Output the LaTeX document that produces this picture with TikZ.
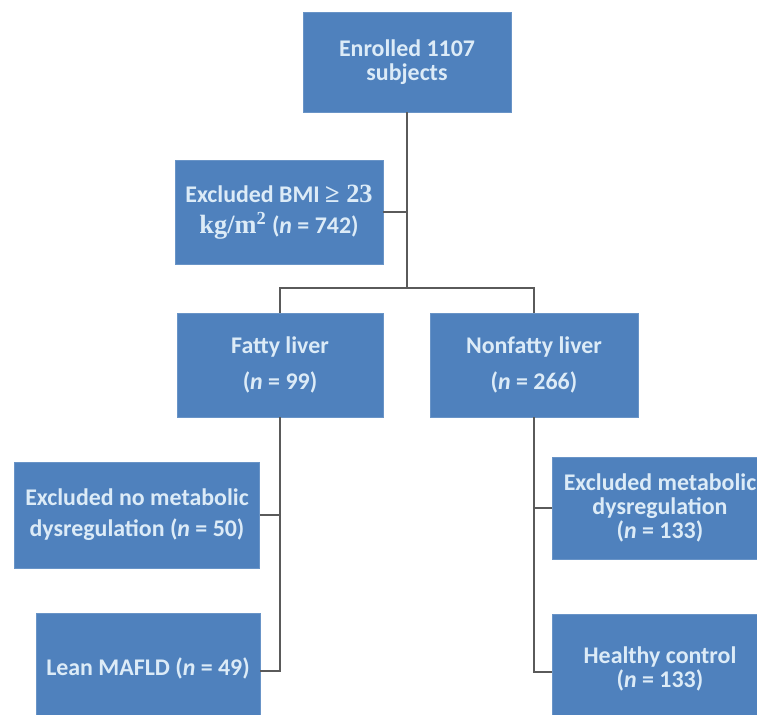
\documentclass[tikz,border=0pt]{standalone}
\usepackage{fontspec}
\setmainfont{Carlito}
\newfontfamily\unitfont{Liberation Serif}
\definecolor{boxblue}{HTML}{4F81BD}
\definecolor{boxtext}{HTML}{DCEBF7}
\definecolor{linegray}{HTML}{5A5A5A}
\begin{document}
\begin{tikzpicture}[x=0.02cm,y=-0.02cm,
	box/.style={fill=boxblue,draw=boxblue!85!white,line width=0.4pt,text=boxtext,
		font=\fontsize{13.6}{13.8}\selectfont\bfseries,align=center,inner sep=0pt},
	link/.style={draw=linegray,line width=1.1pt}]
	
	\clip (0,0) rectangle (757,715);
	\fill[white] (0,0) rectangle (757,715);
	
	\node[box,minimum width=4.16cm,minimum height=2cm] (enr) at (407,62) {Enrolled 1107\\subjects};
	
	\node[box,minimum width=4.16cm,minimum height=2.08cm] (bmi) at (279,212)
		{Excluded BMI {\unitfont\fontsize{15}{15}\selectfont ≥ 23}\\[4pt]
		{\unitfont\fontsize{15}{15}\selectfont kg/m\textsuperscript{2}} (\textit{n} = 742)};
	
	\node[box,minimum width=4.12cm,minimum height=2.08cm] (fat) at (280,365) {Fatty liver\\[6.6pt](\textit{n} = 99)};
	\node[box,minimum width=4.16cm,minimum height=2.08cm] (nonfat) at (534,365) {Nonfatty liver\\[6.6pt](\textit{n} = 266)};
	
	\node[box,minimum width=4.9cm,minimum height=2.12cm] (exnm) at (137,515)
		{Excluded no metabolic\\[3.8pt]dysregulation (\textit{n} = 50)};
	\node[box,minimum width=4.48cm,minimum height=2.2cm] (lean) at (148,668) {Lean MAFLD (\textit{n} = 49)};
	
	\node[box,minimum width=4.3cm,minimum height=2.04cm] (exm) at (660,508)
		{Excluded metabolic\\dysregulation\\(\textit{n} = 133)};
	\node[box,minimum width=4.3cm,minimum height=2.2cm] (hc) at (660,669) {Healthy control\\(\textit{n} = 133)};
	
	\coordinate (split) at (407,288);
	\draw[link] (enr.south) -- (enr.south |- split);
	\draw[link] (bmi.east) -- (bmi.east -| enr.south);
	\draw[link] (fat.north) |- (split) -| (nonfat.north);
	
	\draw[link] (fat.south) |- ([yshift=-0.06cm]lean.east);
	\draw[link] (exnm.east) -- (exnm.east -| fat.south);
	
	\draw[link] (nonfat.south) |- ([yshift=-0.06cm]hc.west);
	\draw[link] (exm.west) -- (exm.west -| nonfat.south);
\end{tikzpicture}
\end{document}
